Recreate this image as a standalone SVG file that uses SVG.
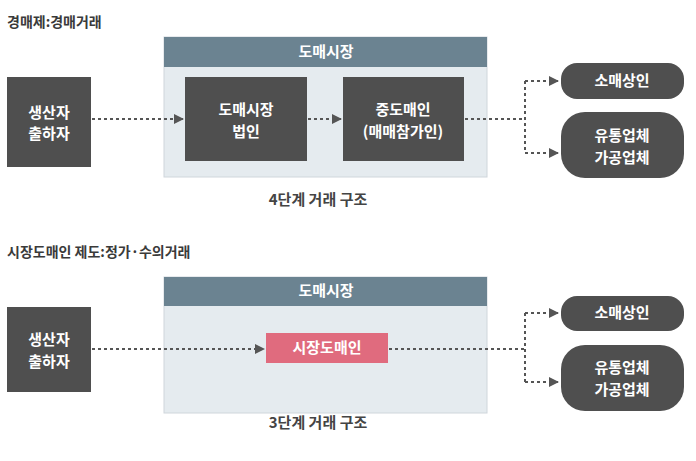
<svg xmlns="http://www.w3.org/2000/svg" width="696" height="461" viewBox="0 0 696 461">
<style>
text{font-family:"Noto Sans CJK KR","Noto Sans",sans-serif;font-weight:bold;}
.t{fill:#3a3a3a;font-size:14px}
.w{fill:#fff;font-size:15px;text-anchor:middle}
.c{fill:#444;font-size:15px;text-anchor:middle}
.dk{fill:#4f4f4f}
.hd{fill:#6b8391}
.bd{fill:#e5ebef;stroke:#cfd6db}
.ln{fill:none;stroke:#555;stroke-width:2;stroke-dasharray:3 3}
</style>
<defs><marker id="a" viewBox="0 0 10 10" refX="9" refY="5" markerWidth="5" markerHeight="5" orient="auto"><path d="M0,0L10,5L0,10z" fill="#555"/></marker></defs>
<rect width="696" height="461" fill="#fff"/>
<text class="t" x="7" y="27">경매제:경매거래</text>
<text class="t" x="7" y="257">시장도매인 제도:정가·수의거래</text>
<g id="market1"><rect class="bd" x="164" y="37" width="323" height="140"/><rect class="hd" x="164" y="37" width="323" height="30"/><text class="w" x="326" y="57">도매시장</text></g>
<g id="prod1"><rect class="dk" x="7" y="77" width="84" height="90"/><text class="w" x="49" y="118">생산자</text><text class="w" x="49" y="139">출하자</text></g>
<g id="corp"><rect class="dk" x="185" y="77" width="122" height="84"/><text class="w" x="246" y="115">도매시장</text><text class="w" x="246" y="137">법인</text></g>
<g id="mid"><rect class="dk" x="343" y="77" width="121" height="84"/><text class="w" x="403" y="115">중도매인</text><text class="w" x="403" y="137">(매매참가인)</text></g>
<g id="retail1"><rect class="dk" x="561" y="63" width="123" height="36" rx="16"/><text class="w" x="622" y="86">소매상인</text></g>
<g id="dist1"><rect class="dk" x="561" y="112" width="123" height="66" rx="24"/><text class="w" x="622" y="141">유통업체</text><text class="w" x="622" y="163">가공업체</text></g>
<text class="c" x="318" y="205">4단계 거래 구조</text>
<g id="market2"><rect class="bd" x="164" y="277" width="323" height="136"/><rect class="hd" x="164" y="277" width="323" height="29"/><text class="w" x="326" y="296">도매시장</text></g>
<g id="prod2"><rect class="dk" x="7" y="307" width="84" height="85"/><text class="w" x="49" y="345">생산자</text><text class="w" x="49" y="367">출하자</text></g>
<g id="sdm"><rect fill="#e06b7e" x="266" y="333" width="122" height="30"/><text class="w" x="327" y="353">시장도매인</text></g>
<g id="retail2"><rect class="dk" x="561" y="296" width="123" height="35" rx="16"/><text class="w" x="622" y="318">소매상인</text></g>
<g id="dist2"><rect class="dk" x="561" y="345" width="123" height="66" rx="24"/><text class="w" x="622" y="373">유통업체</text><text class="w" x="622" y="395">가공업체</text></g>
<text class="c" x="318" y="428">3단계 거래 구조</text>
<g id="connectors">
<path class="ln" d="M92 119H183" marker-end="url(#a)"/>
<path class="ln" d="M308 119H341" marker-end="url(#a)"/>
<path class="ln" d="M465 119H525"/>
<path class="ln" d="M525 81V153"/>
<path class="ln" d="M525 81H558" marker-end="url(#a)"/>
<path class="ln" d="M525 153H558" marker-end="url(#a)"/>
<path class="ln" d="M92 349H264" marker-end="url(#a)"/>
<path class="ln" d="M389 349H525"/>
<path class="ln" d="M525 313V382"/>
<path class="ln" d="M525 313H558" marker-end="url(#a)"/>
<path class="ln" d="M525 382H558" marker-end="url(#a)"/>
</g>
</svg>
